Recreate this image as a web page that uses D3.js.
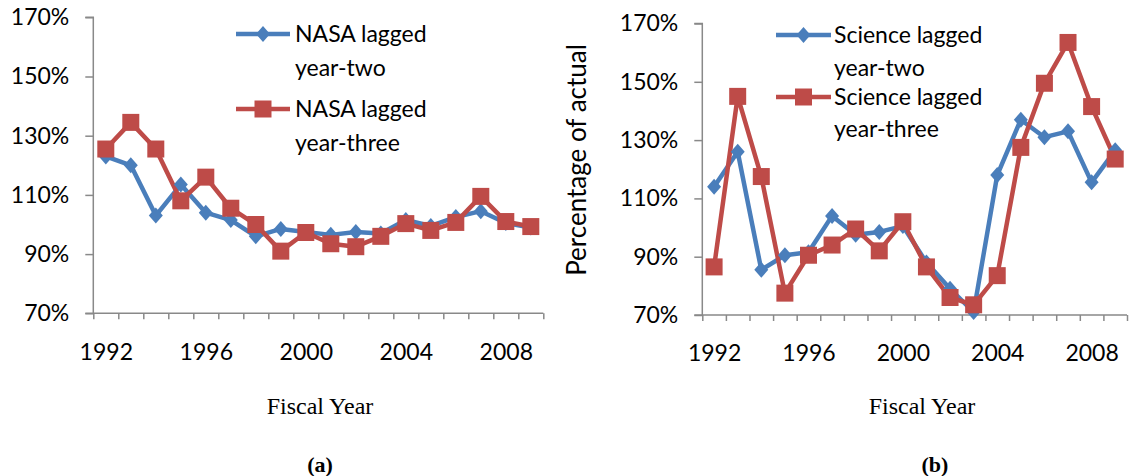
<!DOCTYPE html>
<html><head><meta charset="utf-8">
<script src="https://cdn.jsdelivr.net/npm/d3@7"></script>
<style>
html,body{margin:0;padding:0;background:#fff;}
svg{display:block;}
</style></head>
<body>
<svg id="c" width="1142" height="476"></svg>
<script>
const years = d3.range(1992, 2010);
const tickYears = [1992, 1996, 2000, 2004, 2008];
const yTicks = [0.7, 0.9, 1.1, 1.3, 1.5, 1.7];

const nasaTwo   = [123, 120, 103, 113.5, 104, 101.5, 96, 98.5, 97.5, 96.5, 97.5, 97, 101.5, 99.5, 102.5, 104.5, 100.5, 99];
const nasaThree = [125.5, 134.5, 125.5, 108, 116, 105.5, 100, 91, 97.3, 93.5, 92.5, 96, 100.3, 98, 100.7, 109.5, 101, 99.3];
const sciTwo    = [114, 126, 85.5, 90.5, 91.5, 104, 97.5, 98.5, 100.5, 88, 79, 71, 118, 137, 131, 133, 115.5, 126.5];
const sciThree  = [86.5, 145, 117.5, 77.5, 90.5, 94, 99.5, 92, 102, 86.5, 76, 73.5, 83.5, 127.5, 149.5, 163.5, 141.5, 123.5];

const names = {
  a: ["NASA lagged year-two", "NASA lagged year-three"],
  b: ["Science lagged year-two", "Science lagged year-three"]
};

const BLUE = "#4a7ebb", RED = "#be4b48", AXIS = "#898989";
const tickFont = "Lato, 'Open Sans', sans-serif";
const serif = "'Liberation Serif', 'Times New Roman', serif";
const svg = d3.select("#c");

function panel(cfg) {
  const x = d3.scaleLinear().domain([1991.5, 2009.5]).range([cfg.x0, cfg.x1]);
  const y = d3.scaleLinear().domain([0.7, 1.7]).range([cfg.yb, cfg.yt]);
  const g = svg.append("g");

  const ya = g.append("g").attr("transform", `translate(${cfg.x0},0)`)
    .call(d3.axisLeft(y).tickValues(yTicks).tickSize(8).tickPadding(16).tickFormat(d3.format(".0%")));
  ya.select(".domain").attr("stroke", AXIS).attr("stroke-width", 1.5).attr("d", `M-8,${cfg.yt}H0V${cfg.yb}`);
  ya.selectAll(".tick line").attr("stroke", AXIS).attr("stroke-width", 1.5);
  ya.selectAll(".tick text").attr("font-family", tickFont).attr("font-size", 23).attr("fill", "#000");

  const bounds = d3.range(1991.5, 2010, 1);
  const xa = g.append("g").attr("transform", `translate(0,${cfg.yb})`)
    .call(d3.axisBottom(x).tickValues(bounds).tickSize(6).tickFormat(""));
  xa.select(".domain").attr("stroke", AXIS).attr("stroke-width", 1.5).attr("d", `M${cfg.x0 - 8},0H${cfg.x1}`);
  xa.selectAll(".tick line").attr("stroke", AXIS).attr("stroke-width", 1.5);

  const xl = g.append("g").attr("transform", `translate(0,${cfg.yb})`)
    .call(d3.axisBottom(x).tickValues(tickYears).tickSize(0).tickPadding(30).tickFormat(d3.format("d")));
  xl.select(".domain").remove();
  xl.selectAll(".tick text").attr("font-family", tickFont).attr("font-size", 23).attr("fill", "#000");

  const line = d3.line().x((d, i) => x(years[i])).y(d => y(d / 100));
  const series = [
    {v: cfg.two, c: BLUE, m: "diamond"},
    {v: cfg.three, c: RED, m: "square"}
  ];
  const DIA = "M0,-8L7,0L0,8L-7,0Z", SQ = "M-8.5,-8.5H8.5V8.5H-8.5Z";
  series.forEach(s => {
    g.append("path").datum(s.v).attr("d", line).attr("fill", "none")
      .attr("stroke", s.c).attr("stroke-width", 4.5).attr("stroke-linejoin", "round");
  });
  series.forEach(s => {
    g.append("g").selectAll("path").data(s.v).join("path")
      .attr("fill", s.c).attr("d", s.m === "diamond" ? DIA : SQ)
      .attr("transform", (d, i) => `translate(${x(years[i])},${y(d / 100)})`);
  });

  const lg = g.append("g");
  cfg.leg.forEach((L, k) => {
    const s = series[k];
    lg.append("line").attr("x1", L.lx0).attr("x2", L.lx1).attr("y1", L.ly).attr("y2", L.ly)
      .attr("stroke", s.c).attr("stroke-width", 4.5);
    lg.append("path").attr("fill", s.c).attr("d", s.m === "diamond" ? DIA : SQ)
      .attr("transform", `translate(${(L.lx0 + L.lx1) / 2},${L.ly})`);
    const words = cfg.names[k];
    const parts = [words.replace(/ year-.*/, ""), words.replace(/^.* (year-)/, "$1")];
    parts.forEach((p, j) => {
      lg.append("text").attr("x", L.tx).attr("y", L.ly + j * L.dy).attr("dy", "0.35em")
        .attr("font-family", tickFont).attr("font-size", 23).attr("fill", "#000").text(p);
    });
  });

  g.append("text").attr("x", cfg.ftx).attr("y", 406).attr("dy", "0.35em").attr("text-anchor", "middle")
    .attr("font-family", serif).attr("font-size", 24).attr("fill", "#000").text("Fiscal Year");
  g.append("text").attr("x", cfg.lab).attr("y", 464).attr("dy", "0.35em").attr("text-anchor", "middle")
    .attr("font-family", serif).attr("font-size", 22).attr("font-weight", "bold")
    .attr("fill", "#000").text(cfg.label);
  return g;
}

panel({
  x0: 93.3, x1: 543.3, yt: 17.3, yb: 313.3,
  two: nasaTwo, three: nasaThree, names: names.a,
  leg: [{lx0: 236, lx1: 290, ly: 34, tx: 295, dy: 34}, {lx0: 236, lx1: 290, ly: 109, tx: 295, dy: 34}],
  ftx: 320, lab: 320, label: "(a)"
});
const gb = panel({
  x0: 702.3, x1: 1127, yt: 23.5, yb: 315,
  two: sciTwo, three: sciThree, names: names.b,
  leg: [{lx0: 776, lx1: 831, ly: 35, tx: 834, dy: 33}, {lx0: 776, lx1: 831, ly: 97, tx: 834, dy: 32}],
  ftx: 922, lab: 935, label: "(b)"
});
gb.append("text").attr("transform", "translate(577,160) rotate(-90)").attr("text-anchor", "middle")
  .attr("dy", "0.35em").attr("font-family", tickFont).attr("font-size", 26).attr("fill", "#000")
  .text("Percentage of actual");
</script>
</body></html>
